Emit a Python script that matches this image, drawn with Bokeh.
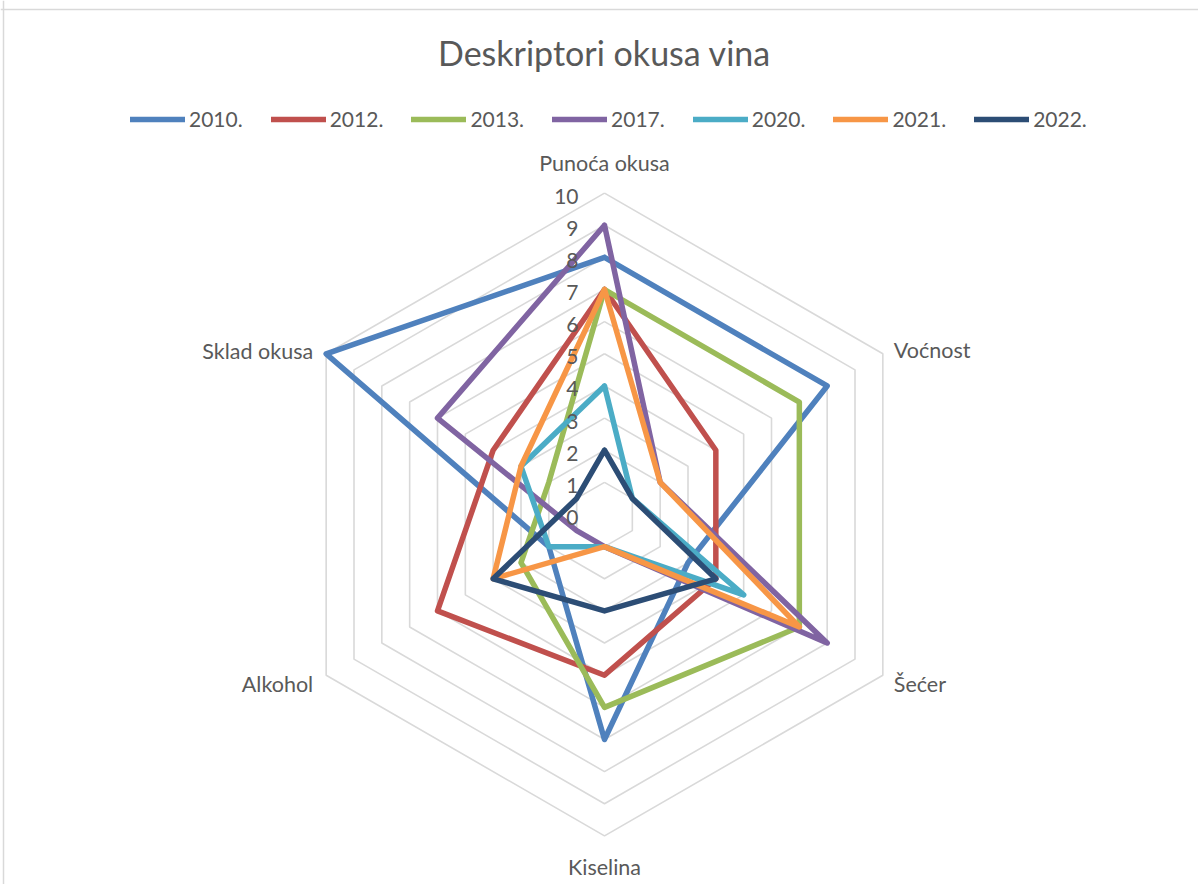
import numpy as np
from bokeh.plotting import figure
from bokeh.models import Range1d, Legend, LegendItem, Label, Span
from bokeh.core.properties import value
from bokeh.embed import file_html
from bokeh.resources import INLINE

# ---------------- data ----------------
categories = ["Punoća okusa", "Voćnost", "Šećer", "Kiselina", "Alkohol", "Sklad okusa"]
years = ["2010.", "2012.", "2013.", "2017.", "2020.", "2021.", "2022."]
v2010 = [8, 8, 3, 7, 2, 10]
v2012 = [7, 4, 4, 5, 6, 4]
v2013 = [7, 7, 7, 6, 3, 2]
v2017 = [9, 2, 8, 1, 1, 6]
v2020 = [4, 1, 5, 1, 2, 3]
v2021 = [7, 2, 7, 1, 4, 3]
v2022 = [2, 1, 4, 3, 4, 1]
ticks = [0, 1, 2, 3, 4, 5, 6, 7, 8, 9, 10]

series = [v2010, v2012, v2013, v2017, v2020, v2021, v2022]
colors = ["#4F81BD", "#C0504D", "#9BBB59", "#8064A2", "#4BACC6", "#F79646", "#2C4D75"]

# ---------------- geometry ----------------
W, H = 1198, 884
CX, CY = 604, 514      # centre of the radar in figure pixels (from top-left)
S = 32.14              # pixels per value unit
FONT = "Lato"
TXT = "#595959"

p = figure(width=W, height=H, output_backend="svg", toolbar_location=None,
           x_range=Range1d(-CX / S, (W - CX) / S),
           y_range=Range1d(-(H - CY) / S, CY / S),
           x_axis_location=None, y_axis_location=None,
           min_border=0, outline_line_color=None,
           background_fill_color="white", border_fill_color="white")
p.grid.visible = False

n = len(categories)
ang = np.deg2rad(90 - 360.0 / n * np.arange(n))
ang_c = np.append(ang, ang[0])

# hexagonal grid rings
rings = [t for t in ticks if t > 0]
p.multi_line(xs=[list(r * np.cos(ang_c)) for r in rings],
             ys=[list(r * np.sin(ang_c)) for r in rings],
             line_color="#D9D9D9", line_width=1.6)

# series
renderers = []
for vals, col in zip(series, colors):
    v = np.array(vals + [vals[0]], dtype=float)
    r = p.line(v * np.cos(ang_c), v * np.sin(ang_c), line_color=col, line_width=5.5,
               line_join="round", line_cap="round")
    renderers.append(r)

# radial tick labels (along the first axis)
p.text(x=[-26 / S] * len(ticks), y=[t - 3 / S for t in ticks], text=[str(t) for t in ticks],
       text_align="right", text_baseline="middle", text_font=value(FONT),
       text_font_size="21px", text_color=TXT)

# category labels
offs = [(0, 30, "center"), (11, 4, "left"), (11, -9, "left"),
        (0, -31, "center"), (-13, -9, "right"), (-13, 3, "right")]
R = ticks[-1]
for cat, a, (dx, dy, al) in zip(categories, ang, offs):
    p.text(x=[R * np.cos(a) + dx / S], y=[R * np.sin(a) + dy / S], text=[cat],
           text_align=al, text_baseline="middle", text_font=value(FONT),
           text_font_size="21.5px", text_color=TXT)

# title
p.add_layout(Label(x=CX, y=H - 52, x_units="screen", y_units="screen",
                   text="Deskriptori okusa vina", text_align="center", text_baseline="middle",
                   text_font=FONT, text_font_size="34px", text_color=TXT))

# faint chart frame (top / left)
p.add_layout(Span(location=(CY - 9) / S, dimension="width", line_color="#D9D9D9", line_width=1.5))
p.add_layout(Span(location=(-CX + 3) / S, dimension="height", line_color="#D9D9D9", line_width=1.5))

legend = Legend(items=[LegendItem(label=y, renderers=[r]) for y, r in zip(years, renderers)],
                orientation="horizontal", location=(130, 753), margin=0, padding=0,
                spacing=28, glyph_width=55, glyph_height=20, label_height=20, label_standoff=4,
                label_text_font=FONT, label_text_font_size="21px", label_text_color=TXT,
                border_line_color=None, background_fill_alpha=0)
p.add_layout(legend)

open("out.html", "w").write(file_html(p, INLINE))
